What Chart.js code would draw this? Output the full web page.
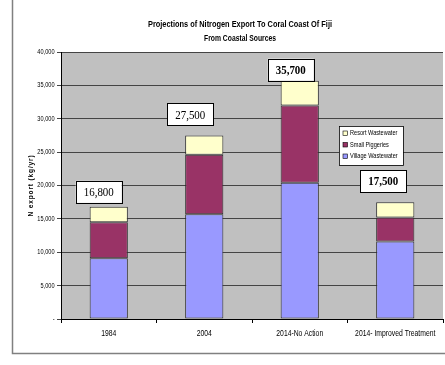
<!DOCTYPE html>
<html><head><meta charset="utf-8">
<script src="https://cdn.jsdelivr.net/npm/chart.js@4.4.0/dist/chart.umd.min.js"></script>
<style>html,body{margin:0;padding:0;background:#fff;}#wrap{width:445px;height:365px;position:relative;}</style>
</head><body><div id="wrap"><canvas id="c" width="445" height="365"></canvas></div>
<script>
const categories = ["1984", "2004", "2014-No Action", "2014- Improved Treatment"];
const villageWastewater = [9100, 15700, 20400, 11600];
const smallPiggeries = [5400, 8900, 11600, 3600];
const resortWastewater = [2300, 2900, 3700, 2300];
const totalLabels = ["16,800", "27,500", "35,700", "17,500"];
const totalLabelBold = [false, false, true, true];
const yTicks = [0, 5000, 10000, 15000, 20000, 25000, 30000, 35000, 40000];
const titleLines = ["Projections of Nitrogen Export To Coral Coast Of Fiji", "From Coastal Sources"];
const yTitle = "N export (kg/yr)";

const SANS = '"Liberation Sans", Arial, sans-serif';
const SERIF = '"Liberation Serif", "Times New Roman", serif';
const SQ = 0.8; // horizontal condensing of the narrow sans text

// label box placement styling (offsets in px from bar top/center)
const labelDx = [-10, -14, -9, -12];
const labelGap = [4, 10, 0, 10];

function narrowText(ctx, text, x, y, align) {
  ctx.save();
  ctx.translate(x, y);
  ctx.scale(SQ, 1);
  ctx.textAlign = align;
  ctx.fillText(text, 0, 0);
  ctx.restore();
}

const decor = {
  id: 'decor',
  beforeDraw(chart) {
    const {ctx, chartArea: a} = chart;
    ctx.save();
    ctx.fillStyle = '#C0C0C0';
    ctx.fillRect(a.left, a.top, a.right - a.left, a.bottom - a.top);
    ctx.restore();
  },
  afterDraw(chart) {
    const {ctx, chartArea: a} = chart;
    const xs = chart.scales.x, ys = chart.scales.y;
    ctx.save();
    // frame
    ctx.strokeStyle = '#808080';
    ctx.lineWidth = 1.5;
    ctx.beginPath();
    ctx.moveTo(12.5, 0); ctx.lineTo(12.5, 353.5); ctx.lineTo(445, 353.5);
    ctx.stroke();
    // title
    ctx.fillStyle = '#000';
    ctx.textBaseline = 'middle';
    ctx.font = 'bold 9.5px ' + SANS;
    ctx.textAlign = 'center';
    ctx.fillText(titleLines[0], 240, 24, 184);
    ctx.fillText(titleLines[1], 240, 38.5, 72);
    // y tick labels
    ctx.font = '7px ' + SANS;
    yTicks.forEach(v => {
      const t = v === 0 ? '-' : v.toLocaleString('en-US');
      narrowText(ctx, t, 54.5, ys.getPixelForValue(v), 'right');
    });
    // x tick labels
    ctx.font = '8.5px ' + SANS;
    categories.forEach((c, i) => {
      narrowText(ctx, c, xs.getPixelForValue(i), 333.5, 'center');
    });
    // y title
    ctx.save();
    ctx.translate(31, (a.top + a.bottom) / 2);
    ctx.rotate(-Math.PI / 2);
    ctx.font = 'bold 8px ' + SANS;
    ctx.textAlign = 'center';
    if ('letterSpacing' in ctx) ctx.letterSpacing = '1px';
    ctx.fillText(yTitle, 0, 0, 62);
    ctx.restore();
    // total labels
    categories.forEach((c, i) => {
      const tot = villageWastewater[i] + smallPiggeries[i] + resortWastewater[i];
      const cx = xs.getPixelForValue(i) + labelDx[i];
      const bottom = ys.getPixelForValue(tot) - labelGap[i];
      const w = 46, h = 22;
      ctx.fillStyle = '#fff';
      ctx.fillRect(cx - w / 2, bottom - h, w, h);
      ctx.strokeStyle = '#000';
      ctx.lineWidth = 1;
      ctx.strokeRect(Math.round(cx - w / 2) + 0.5, Math.round(bottom - h) + 0.5, w, h);
      ctx.fillStyle = '#000';
      ctx.font = (totalLabelBold[i] ? 'bold ' : '') + '12.5px ' + SERIF;
      ctx.textAlign = 'center';
      ctx.textBaseline = 'middle';
      ctx.fillText(totalLabels[i], cx, bottom - h / 2 + 1, 30);
    });
    // legend
    const lx = 339, ly = 126, lw = 64, lh = 39;
    ctx.fillStyle = '#fff';
    ctx.fillRect(lx, ly, lw, lh);
    ctx.strokeStyle = '#000';
    ctx.lineWidth = 0.8;
    ctx.strokeRect(lx + 0.5, ly + 0.5, lw, lh);
    const ds = chart.data.datasets.slice().reverse();
    ctx.font = '7px ' + SANS;
    ds.forEach((d, k) => {
      const yy = ly + 7.5 + k * 11.5;
      ctx.fillStyle = d.backgroundColor;
      ctx.fillRect(lx + 4, yy - 2.5, 4.5, 4.5);
      ctx.strokeStyle = '#000';
      ctx.lineWidth = 0.6;
      ctx.strokeRect(lx + 4, yy - 2.5, 4.5, 4.5);
      ctx.fillStyle = '#000';
      narrowText(ctx, d.label, lx + 11, yy, 'left');
    });
    ctx.restore();
  }
};

new Chart(document.getElementById('c'), {
  type: 'bar',
  data: {
    labels: categories,
    datasets: [
      {label: 'Village Wastewater', data: villageWastewater, backgroundColor: '#9999FF'},
      {label: 'Small Piggeries', data: smallPiggeries, backgroundColor: '#993366'},
      {label: 'Resort Wastewater', data: resortWastewater, backgroundColor: '#FFFFCC'}
    ].map(d => Object.assign(d, {borderColor: '#303030', borderWidth: 1, borderSkipped: false, categoryPercentage: 1, barPercentage: 0.4}))
  },
  options: {
    responsive: false,
    animation: false,
    events: [],
    layout: {padding: {left: 0, right: 2, top: 52, bottom: 0}},
    plugins: {legend: {display: false}, tooltip: {enabled: false}, title: {display: false}},
    scales: {
      x: {
        stacked: true,
        offset: true,
        afterFit(s) { s.height = 46; },
        grid: {offset: true, drawOnChartArea: false, drawTicks: true, tickLength: 4, color: '#000'},
        border: {color: '#000', width: 1},
        ticks: {display: false}
      },
      y: {
        stacked: true,
        min: 0, max: 40000,
        afterFit(s) { s.width = 61; },
        afterBuildTicks(s) { s.ticks = yTicks.map(v => ({value: v})); },
        grid: {color: '#444', lineWidth: 1, tickLength: 4},
        border: {color: '#000', width: 1},
        ticks: {display: false}
      }
    }
  },
  plugins: [decor]
});
</script>
</body></html>
